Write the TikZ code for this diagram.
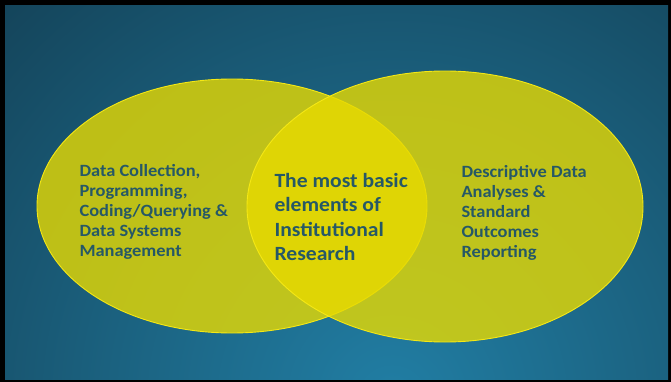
\documentclass[tikz,border=0pt]{standalone}
\usepackage{fontspec}
\setmainfont{Carlito}[FakeStretch=1.07]
\usetikzlibrary{shapes.geometric}

\definecolor{bgdark}{RGB}{17,44,58}
\definecolor{bgmid}{RGB}{20,68,90}
\definecolor{bgsoft}{RGB}{27,98,128}
\definecolor{bglight}{RGB}{33,126,164}
\definecolor{setyellow}{RGB}{232,218,0}
\definecolor{setedge}{RGB}{245,232,20}
\definecolor{txtteal}{RGB}{38,88,102}

\pgfdeclareradialshading{glow}{\pgfpoint{0bp}{0bp}}{%
    color(0bp)=(bglight); color(10bp)=(bgsoft); color(20bp)=(bgmid);
    color(32bp)=(bgdark); color(50bp)=(bgdark)}

\begin{document}
\begin{tikzpicture}[
    x=1pt, y=-1pt,
    set/.style={
        ellipse,
        draw=setedge,
        line width=0.9pt,
        fill=setyellow,
        fill opacity=0.8,
        inner sep=0pt
    },
    side/.style={
        text=txtteal,
        anchor=west,
        align=left,
        font=\fontsize{17.2}{20.2}\selectfont\bfseries
    },
    core/.style={side, font=\fontsize{20.2}{24.4}\selectfont\bfseries}
]

% ============================================================
% RAHMEN UND HINTERGRUND
% ============================================================
\useasboundingbox (0,0) rectangle (671,382);
\fill[black] (0,0) rectangle (671,382);
\fill[bgdark] (5,6) rectangle (668,379);
\begin{scope}
    \clip (5,6) rectangle (668,379);
    \shade[shading=glow] (392,400) circle (700);
\end{scope}

% ============================================================
% MENGEN
% ============================================================
\node[set, minimum width=390pt, minimum height=254pt] (ops) at (232,206) {};
\node[set, minimum width=396pt, minimum height=271pt] (rep) at (445,206.5) {};

% ============================================================
% BESCHRIFTUNGEN
% ============================================================
\node[side] (opstxt) at (76,212) {Data Collection,\\Programming,\\Coding/Querying \&\\Data Systems\\Management};
\node[core] (coretxt) at (271,217) {The most basic\\elements of\\Institutional\\Research};
\node[side] (reptxt) at (458,213) {Descriptive Data\\Analyses \&\\Standard\\Outcomes\\Reporting};

\end{tikzpicture}
\end{document}
